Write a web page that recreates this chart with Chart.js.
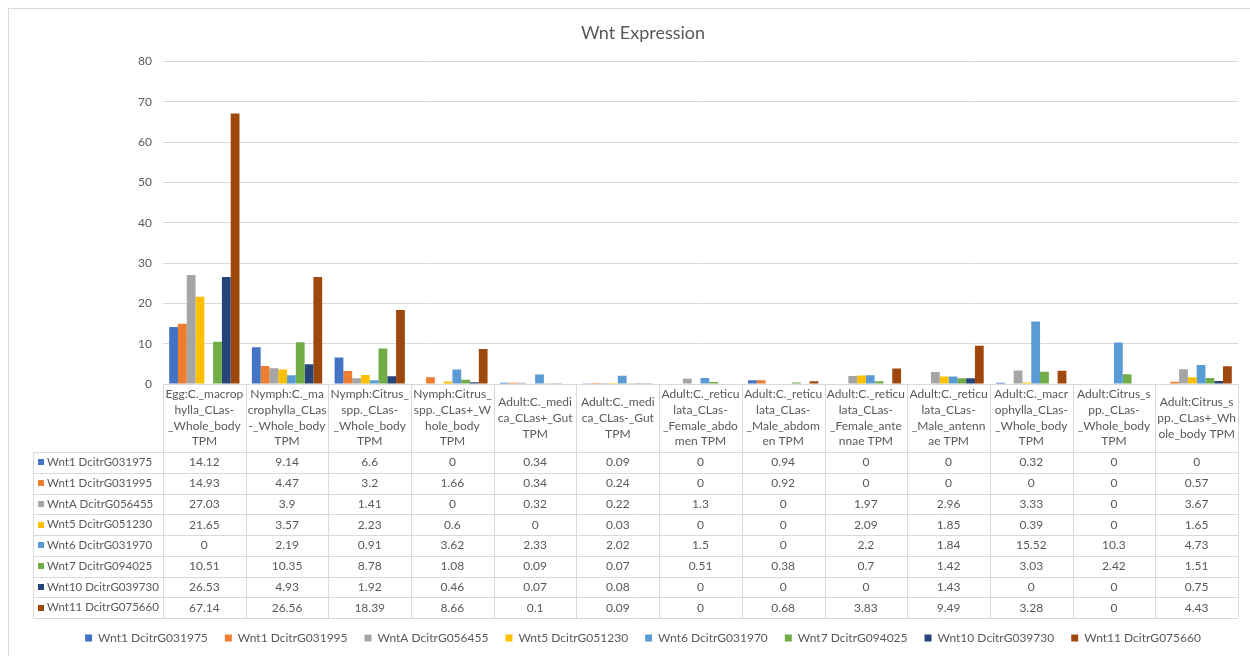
<!DOCTYPE html>
<html>
<head>
<meta charset="utf-8">
<script src="https://cdn.jsdelivr.net/npm/chart.js@4.4.0/dist/chart.umd.min.js"></script>
<style>
html,body{margin:0;padding:0;background:#fff;}
#wrap{width:1250px;height:656px;position:relative;}
</style>
</head>
<body>
<div id="wrap"><canvas id="c" width="1250" height="656"></canvas></div>
<script>
// ---- data ----
const categories = [
  ["Egg:C._macrop", "hylla_CLas-", "_Whole_body", "TPM"],
  ["Nymph:C._ma", "crophylla_CLas", "-_Whole_body", "TPM"],
  ["Nymph:Citrus_", "spp._CLas-", "_Whole_body", "TPM"],
  ["Nymph:Citrus_", "spp._CLas+_W", "hole_body", "TPM"],
  ["Adult:C._medi", "ca_CLas+_Gut", "TPM"],
  ["Adult:C._medi", "ca_CLas-_Gut", "TPM"],
  ["Adult:C._reticu", "lata_CLas-", "_Female_abdo", "men TPM"],
  ["Adult:C._reticu", "lata_CLas-", "_Male_abdom", "en TPM"],
  ["Adult:C._reticu", "lata_CLas-", "_Female_ante", "nnae TPM"],
  ["Adult:C._reticu", "lata_CLas-", "_Male_antenn", "ae TPM"],
  ["Adult:C._macr", "ophylla_CLas-", "_Whole_body", "TPM"],
  ["Adult:Citrus_s", "pp._CLas-", "_Whole_body", "TPM"],
  ["Adult:Citrus_s", "pp._CLas+_Wh", "ole_body TPM"]
];
const seriesNames = [
  "Wnt1 DcitrG031975", "Wnt1 DcitrG031995", "WntA DcitrG056455", "Wnt5 DcitrG051230",
  "Wnt6 DcitrG031970", "Wnt7 DcitrG094025", "Wnt10 DcitrG039730", "Wnt11 DcitrG075660"
];
const wnt1_031975  = [14.12, 9.14, 6.6, 0, 0.34, 0.09, 0, 0.94, 0, 0, 0.32, 0, 0];
const wnt1_031995  = [14.93, 4.47, 3.2, 1.66, 0.34, 0.24, 0, 0.92, 0, 0, 0, 0, 0.57];
const wntA_056455  = [27.03, 3.9, 1.41, 0, 0.32, 0.22, 1.3, 0, 1.97, 2.96, 3.33, 0, 3.67];
const wnt5_051230  = [21.65, 3.57, 2.23, 0.6, 0, 0.03, 0, 0, 2.09, 1.85, 0.39, 0, 1.65];
const wnt6_031970  = [0, 2.19, 0.91, 3.62, 2.33, 2.02, 1.5, 0, 2.2, 1.84, 15.52, 10.3, 4.73];
const wnt7_094025  = [10.51, 10.35, 8.78, 1.08, 0.09, 0.07, 0.51, 0.38, 0.7, 1.42, 3.03, 2.42, 1.51];
const wnt10_039730 = [26.53, 4.93, 1.92, 0.46, 0.07, 0.08, 0, 0, 0, 1.43, 0, 0, 0.75];
const wnt11_075660 = [67.14, 26.56, 18.39, 8.66, 0.1, 0.09, 0, 0.68, 3.83, 9.49, 3.28, 0, 4.43];
const yTicks = [0, 10, 20, 30, 40, 50, 60, 70, 80];
const chartTitle = "Wnt Expression";

// ---- styles ----
const colors = ["#4472C4", "#ED7D31", "#A5A5A5", "#FFC000", "#5B9BD5", "#70AD47", "#264478", "#9E480E"];
const FONT = "Lato, 'Noto Sans', sans-serif";
const TEXT = "#595959";
const GRID = "#D9D9D9";

const seriesValues = [wnt1_031975, wnt1_031995, wntA_056455, wnt5_051230,
                      wnt6_031970, wnt7_094025, wnt10_039730, wnt11_075660];

const PAD_LEFT = 48;
const PLOT_LEFT = 163;

const tablePlugin = {
  id: 'dataTable',
  beforeDraw(chart) {
    const ctx = chart.ctx;
    ctx.save();
    ctx.fillStyle = '#fff';
    ctx.fillRect(0, 0, chart.width, chart.height);
    ctx.strokeStyle = GRID;
    ctx.lineWidth = 1;
    ctx.strokeRect(8.5, 8.5, 1400, 800);
    ctx.restore();
  },
  afterDraw(chart) {
    const {ctx, chartArea, scales: {x}} = chart;
    const n = categories.length;
    const cw = (chartArea.right - chartArea.left) / n;
    const top = chartArea.bottom;
    const headerBottom = top + 68;
    const rowH = 20.75;
    const labelLeft = 33;
    const tableBottom = headerBottom + rowH * seriesNames.length;
    ctx.save();
    ctx.strokeStyle = GRID;
    ctx.lineWidth = 1;
    ctx.beginPath();
    for (let i = 0; i <= n; i++) {
      const xx = Math.round(chartArea.left + i * cw) + 0.5;
      ctx.moveTo(xx, top);
      ctx.lineTo(xx, tableBottom);
    }
    ctx.moveTo(labelLeft + 0.5, headerBottom);
    ctx.lineTo(labelLeft + 0.5, tableBottom);
    for (let r = 0; r <= seriesNames.length; r++) {
      const yy = Math.round(headerBottom + r * rowH) + 0.5;
      ctx.moveTo(labelLeft, yy);
      ctx.lineTo(chartArea.right, yy);
    }
    ctx.stroke();

    ctx.font = '12px ' + FONT;
    ctx.fillStyle = TEXT;
    ctx.textAlign = 'center';
    ctx.textBaseline = 'middle';
    const lh = 15.7;
    categories.forEach((lines, i) => {
      const cx = x.getPixelForValue(i);
      const y0 = (top + headerBottom) / 2 - (lines.length - 1) * lh / 2;
      lines.forEach((t, k) => ctx.fillText(t, cx, y0 + k * lh));
    });
    seriesNames.forEach((name, r) => {
      const cy = headerBottom + r * rowH + rowH / 2;
      ctx.fillStyle = colors[r];
      ctx.fillRect(38, Math.round(cy) - 3, 6, 6);
      ctx.fillStyle = TEXT;
      ctx.textAlign = 'left';
      ctx.font = '11.5px ' + FONT;
      ctx.fillText(name, 47, cy);
      ctx.font = '12px ' + FONT;
      ctx.textAlign = 'center';
      seriesValues[r].forEach((v, i) => ctx.fillText(String(v), x.getPixelForValue(i), cy));
    });
    ctx.restore();
  }
};

new Chart(document.getElementById('c'), {
  type: 'bar',
  data: {
    labels: categories,
    datasets: seriesNames.map((name, i) => ({
      label: name,
      data: seriesValues[i],
      backgroundColor: colors[i],
      borderColor: colors[i],
      borderWidth: 0,
      categoryPercentage: 0.85,
      barPercentage: 1.0
    }))
  },
  options: {
    responsive: false,
    animation: false,
    devicePixelRatio: 1,
    layout: { padding: { left: PAD_LEFT, right: 12, top: 0, bottom: 2 } },
    plugins: {
      title: {
        display: true,
        text: chartTitle,
        color: TEXT,
        font: { family: FONT, size: 18, weight: 'normal' },
        padding: { top: 22, bottom: 18 }
      },
      legend: {
        display: true,
        position: 'bottom',
        labels: {
          color: TEXT,
          font: { family: FONT, size: 12 },
          boxWidth: 7,
          boxHeight: 7,
          padding: 17
        }
      },
      tooltip: { enabled: false }
    },
    scales: {
      x: {
        grid: { display: false },
        border: { display: false },
        ticks: { display: false },
        afterFit(scale) { scale.height = 231; }
      },
      y: {
        min: 0,
        max: 80,
        afterBuildTicks(scale) { scale.ticks = yTicks.map(v => ({ value: v })); },
        afterFit(scale) { scale.width = PLOT_LEFT - PAD_LEFT; },
        grid: { color: GRID, lineWidth: 1, drawTicks: false },
        border: { display: false },
        ticks: { color: TEXT, font: { family: FONT, size: 12 }, padding: 11 }
      }
    }
  },
  plugins: [tablePlugin]
});
</script>
</body>
</html>
